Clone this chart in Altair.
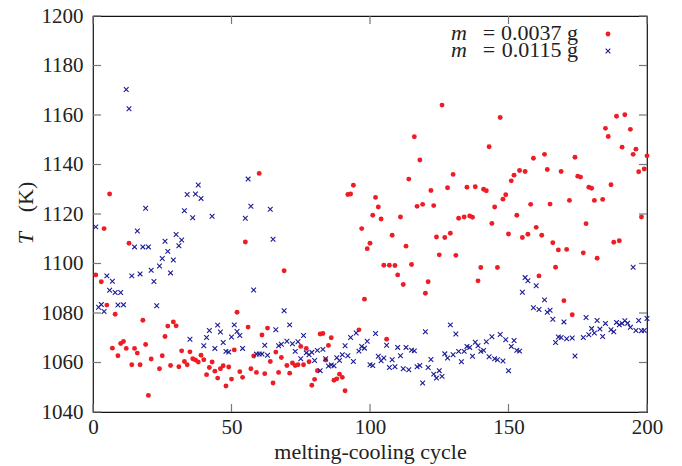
import altair as alt
import pandas as pd

# ---- data ----
red_cycle = [1, 3, 4, 5, 6, 7, 8, 9, 10, 11, 12, 13, 14, 15, 16, 17, 18, 19, 20, 21,
             24, 25, 26, 27, 28, 29, 30, 31, 32, 33, 34, 35, 36, 37, 38, 39, 40, 41, 42, 43,
             44, 45, 46, 47, 48, 49, 50, 51, 52, 53, 54, 55, 56, 57, 58, 59, 60, 61, 62, 63,
             64, 65, 66, 67, 68, 69, 70, 71, 72, 73, 74, 75, 76, 77, 78, 79, 80, 81, 82, 83,
             84, 85, 86, 87, 88, 89, 90, 91, 92, 93, 94, 96, 97, 98, 99, 100, 101, 102, 103, 104,
             105, 106, 107, 108, 109, 110, 111, 112, 113, 114, 115, 116, 117, 118, 119, 120, 121, 122, 123, 124,
             125, 126, 127, 128, 129, 130, 131, 132, 134, 135, 136, 137, 138, 139, 140, 141, 142, 143, 144, 145,
             146, 147, 148, 149, 150, 151, 152, 153, 154, 155, 156, 157, 158, 159, 160, 161, 162, 163, 164, 165,
             166, 167, 168, 169, 170, 171, 172, 173, 174, 175, 176, 177, 178, 179, 180, 181, 182, 184, 185, 186,
             187, 188, 189, 190, 191, 192, 194, 195, 196, 197, 198, 199, 200]
red_T = [1095.4, 1092.6, 1114.1, 1083.2, 1128.1, 1065.8, 1079.5, 1062.7, 1067.7, 1068.5, 1065.7, 1108.2, 1059.1, 1065.7, 1063.8, 1059.1, 1077.1, 1067.3, 1046.7, 1061.4,
         1057.5, 1062.7, 1070.5, 1074.7, 1058.8, 1076.4, 1074.8, 1058.3, 1064.7, 1060.4, 1059.1, 1064.3, 1061.5, 1061.0, 1060.2, 1062.9, 1061.1, 1055.1, 1058.0, 1060.2,
         1056.5, 1053.7, 1057.5, 1058.7, 1050.5, 1058.2, 1053.3, 1065.1, 1080.3, 1056.3, 1054.0, 1108.7, 1074.3, 1057.5, 1062.6, 1056.0, 1136.4, 1071.1, 1055.5, 1073.9,
         1060.4, 1051.7, 1064.2, 1056.0, 1062.0, 1097.1, 1058.8, 1055.7, 1059.8, 1058.8, 1059.1, 1066.5, 1059.1, 1065.7, 1060.3, 1050.8, 1053.2, 1056.7, 1071.5, 1071.7,
         1061.0, 1066.9, 1070.0, 1052.8, 1053.4, 1055.3, 1054.0, 1048.6, 1127.9, 1128.1, 1131.6, 1073.2, 1114.1, 1085.6, 1106.0, 1108.2, 1119.5, 1126.7, 1122.8, 1118.0,
         1099.3, 1069.4, 1099.3, 1111.4, 1099.2, 1095.4, 1118.8, 1091.5, 1107.0, 1134.1, 1099.6, 1151.2, 1123.1, 1141.8, 1123.9, 1088.0, 1092.6, 1129.5, 1123.4, 1110.7,
         1103.5, 1164.0, 1110.5, 1130.6, 1112.2, 1136.0, 1103.3, 1118.3, 1118.8, 1130.8, 1119.2, 1118.7, 1131.0, 1093.0, 1098.4, 1130.0, 1129.4, 1147.2, 1116.2, 1122.8,
         1098.4, 1159.0, 1126.0, 1127.8, 1111.9, 1133.4, 1135.7, 1119.5, 1137.6, 1110.5, 1137.2, 1111.8, 1123.9, 1142.5, 1114.6, 1095.0, 1111.4, 1144.1, 1138.0, 1124.0,
         1108.4, 1098.5, 1105.5, 1137.2, 1085.0, 1105.7, 1125.5, 1079.3, 1142.9, 1135.3, 1134.9, 1104.3, 1116.1, 1130.8, 1130.4, 1125.5, 1102.1, 1125.9, 1154.6, 1151.3,
         1131.8, 1108.6, 1159.5, 1109.2, 1147.0, 1160.1, 1154.2, 1144.1, 1146.2, 1137.1, 1118.8, 1138.2, 1143.5]

blue_cycle = [1, 2, 3, 4, 5, 6, 7, 8, 9, 10, 11, 12, 13, 14, 15, 16, 17, 18, 19, 20,
              21, 22, 23, 24, 25, 26, 27, 28, 29, 30, 31, 32, 33, 34, 35, 36, 37, 38, 39, 40,
              41, 42, 43, 44, 45, 46, 47, 48, 49, 50, 51, 52, 53, 54, 55, 56, 57, 58, 59, 60,
              61, 62, 63, 64, 65, 66, 67, 68, 69, 70, 71, 72, 73, 74, 75, 76, 77, 78, 79, 80,
              81, 82, 83, 84, 85, 86, 87, 88, 89, 90, 91, 92, 93, 94, 95, 96, 97, 98, 99, 100,
              101, 102, 103, 104, 105, 106, 107, 108, 109, 110, 111, 112, 113, 114, 115, 116, 117, 118, 119, 120,
              121, 122, 123, 124, 125, 126, 127, 128, 129, 130, 131, 132, 133, 134, 135, 136, 137, 138, 139, 140,
              141, 142, 143, 144, 145, 146, 147, 148, 149, 150, 151, 152, 153, 154, 155, 156, 157, 159, 160, 161,
              163, 164, 165, 166, 167, 168, 169, 170, 171, 173, 174, 177, 178, 179, 180, 181, 182, 183, 184, 185,
              187, 188, 189, 190, 191, 192, 193, 194, 195, 196, 197, 198, 199, 200]
blue_T = [1114.8, 1082.3, 1083.4, 1080.6, 1095.0, 1089.2, 1092.8, 1088.3, 1083.2, 1088.3, 1083.3, 1170.3, 1162.5, 1095.0, 1106.7, 1113.1, 1095.8, 1106.7, 1122.3, 1106.7,
          1097.3, 1092.7, 1082.9, 1099.0, 1102.0, 1109.0, 1104.9, 1096.2, 1101.4, 1111.7, 1107.2, 1109.5, 1121.3, 1127.9, 1069.4, 1118.5, 1128.1, 1131.7, 1126.3, 1066.8,
          1070.1, 1072.9, 1119.1, 1065.7, 1075.1, 1072.3, 1068.1, 1064.5, 1064.2, 1070.3, 1075.2, 1072.5, 1070.9, 1065.7, 1118.3, 1134.1, 1123.1, 1089.3, 1063.4, 1063.4,
          1063.4, 1067.0, 1062.9, 1121.9, 1109.8, 1073.2, 1066.8, 1067.4, 1080.9, 1068.6, 1075.2, 1067.6, 1064.5, 1068.4, 1061.5, 1070.9, 1063.9, 1063.1, 1064.1, 1060.8,
          1064.9, 1056.7, 1065.3, 1061.5, 1058.6, 1059.0, 1058.7, 1061.9, 1060.8, 1063.1, 1066.8, 1062.7, 1070.1, 1060.4, 1071.9, 1064.6, 1066.5, 1065.8, 1068.6, 1059.1,
          1058.8, 1071.7, 1062.5, 1060.7, 1061.8, 1067.0, 1058.0, 1061.1, 1058.3, 1066.1, 1062.7, 1057.5, 1066.1, 1057.1, 1065.0, 1064.7, 1058.3, 1058.8, 1051.7, 1072.4,
          1058.0, 1061.2, 1055.3, 1053.7, 1056.7, 1054.4, 1063.5, 1061.8, 1075.2, 1063.1, 1071.5, 1064.5, 1060.3, 1064.5, 1066.5, 1066.1, 1062.5, 1068.2, 1066.8, 1064.5,
          1064.9, 1068.4, 1062.3, 1070.4, 1061.5, 1061.1, 1071.3, 1060.6, 1069.2, 1056.7, 1066.5, 1068.9, 1064.9, 1064.6, 1088.4, 1094.3, 1093.0, 1082.1, 1091.0, 1081.4,
          1085.3, 1080.3, 1081.1, 1077.5, 1068.1, 1070.3, 1070.1, 1076.4, 1069.6, 1069.9, 1062.6, 1070.1, 1078.2, 1071.2, 1073.7, 1071.9, 1077.0, 1073.5, 1070.5, 1075.8,
          1073.2, 1072.4, 1076.2, 1075.2, 1075.8, 1076.9, 1075.9, 1074.2, 1098.5, 1072.9, 1077.0, 1072.8, 1072.9, 1077.8]

x_ticks = [0, 50, 100, 150, 200]
y_ticks = [1040, 1060, 1080, 1100, 1120, 1140, 1160, 1180, 1200]
legend_values = ["0.0037 g", "0.0115 g"]

W, H = 554, 396
FONT = "Liberation Serif"
TXT = "#222222"
RED = "#ee1c24"
BLUE = "#1c1c96"
CROSS = "M-1,-1L1,1M-1,1L1,-1"

red_df = pd.DataFrame({"cycle": red_cycle, "T": red_T})
blue_df = pd.DataFrame({"cycle": blue_cycle, "T": blue_T})

xscale = alt.Scale(domain=[0, 200], nice=False, zero=False)
yscale = alt.Scale(domain=[1040, 1200], nice=False, zero=False)

xaxis = alt.Axis(values=x_ticks, format="d", title="melting-cooling cycle", grid=False, ticks=False,
                 tickSize=0, domain=False, labelFont=FONT, labelFontSize=21, labelColor=TXT,
                 labelPadding=4, titleFont=FONT, titleFontSize=22, titleFontWeight="normal",
                 titleColor=TXT, titlePadding=4, labelFlush=False)
yaxis = alt.Axis(values=y_ticks, format="d", title="", grid=False, ticks=False, tickSize=0,
                 domain=False, labelFont=FONT, labelFontSize=21, labelColor=TXT, labelPadding=10)

red_pts = alt.Chart(red_df).mark_point(
    shape="circle", filled=True, size=24, color=RED, opacity=1
).encode(
    x=alt.X("cycle:Q", scale=xscale, axis=xaxis),
    y=alt.Y("T:Q", scale=yscale, axis=yaxis),
)

blue_pts = alt.Chart(blue_df).mark_point(
    shape=CROSS, filled=False, size=22, color=BLUE, strokeWidth=1.1, opacity=1
).encode(
    x=alt.X("cycle:Q", scale=xscale),
    y=alt.Y("T:Q", scale=yscale),
)

tick_color = "#777777"
xt = pd.DataFrame({"cycle": x_ticks})
yt = pd.DataFrame({"T": y_ticks})
xt_bottom = alt.Chart(xt).mark_rule(color=tick_color, strokeWidth=1.2).encode(
    x=alt.X("cycle:Q", scale=xscale), y=alt.value(H), y2=alt.value(H - 8))
xt_top = alt.Chart(xt).mark_rule(color=tick_color, strokeWidth=1.2).encode(
    x=alt.X("cycle:Q", scale=xscale), y=alt.value(0), y2=alt.value(8))
yt_left = alt.Chart(yt).mark_rule(color=tick_color, strokeWidth=1.2).encode(
    y=alt.Y("T:Q", scale=yscale), x=alt.value(0), x2=alt.value(8))
yt_right = alt.Chart(yt).mark_rule(color=tick_color, strokeWidth=1.2).encode(
    y=alt.Y("T:Q", scale=yscale), x=alt.value(W), x2=alt.value(W - 8))


def legend_row(value, ypix, symbol):
    d = pd.DataFrame({"val": [value], "m": ["m"], "eq": ["="]})
    m = alt.Chart(d).mark_text(font=FONT, fontSize=22, fontStyle="italic", align="left",
                               baseline="middle", color=TXT).encode(
        x=alt.value(358), y=alt.value(ypix), text="m:N")
    eq = alt.Chart(d).mark_text(font=FONT, fontSize=22, align="center",
                                baseline="middle", color=TXT).encode(
        x=alt.value(396), y=alt.value(ypix), text="eq:N")
    v = alt.Chart(d).mark_text(font=FONT, fontSize=22, align="right",
                               baseline="middle", color=TXT).encode(
        x=alt.value(485), y=alt.value(ypix), text="val:N")
    if symbol == "circle":
        s = alt.Chart(d).mark_point(shape="circle", filled=True, size=24, color=RED, opacity=1).encode(
            x=alt.value(515), y=alt.value(ypix + 1))
    else:
        s = alt.Chart(d).mark_point(shape=CROSS, filled=False, size=22, color=BLUE,
                                    strokeWidth=1.1, opacity=1).encode(
            x=alt.value(515), y=alt.value(ypix + 1))
    return [m, eq, v, s]


leg = legend_row(legend_values[0], 17, "circle") + legend_row(legend_values[1], 34, "cross")

# y title "T (K)" with italic T
yt_T = alt.Chart(pd.DataFrame({"t": ["T"]})).mark_text(
    font=FONT, fontSize=22, fontStyle="italic", angle=270, align="center", baseline="middle", color=TXT
).encode(x=alt.value(-67), y=alt.value(222), text="t:N")
yt_K = alt.Chart(pd.DataFrame({"t": ["(K)"]})).mark_text(
    font=FONT, fontSize=22, angle=270, align="center", baseline="middle", color=TXT
).encode(x=alt.value(-67), y=alt.value(181), text="t:N")

chart = alt.layer(
    red_pts, blue_pts, xt_bottom, xt_top, yt_left, yt_right, *leg, yt_T, yt_K
).properties(
    width=W, height=H,
    autosize=alt.AutoSizeParams(type="none"),
    padding={"left": 93, "top": 16, "right": 35, "bottom": 54},
    background="white",
).configure_view(stroke="#111111", strokeWidth=1.2)

chart.save("out.html", embed_options={"renderer": "svg", "actions": False})
